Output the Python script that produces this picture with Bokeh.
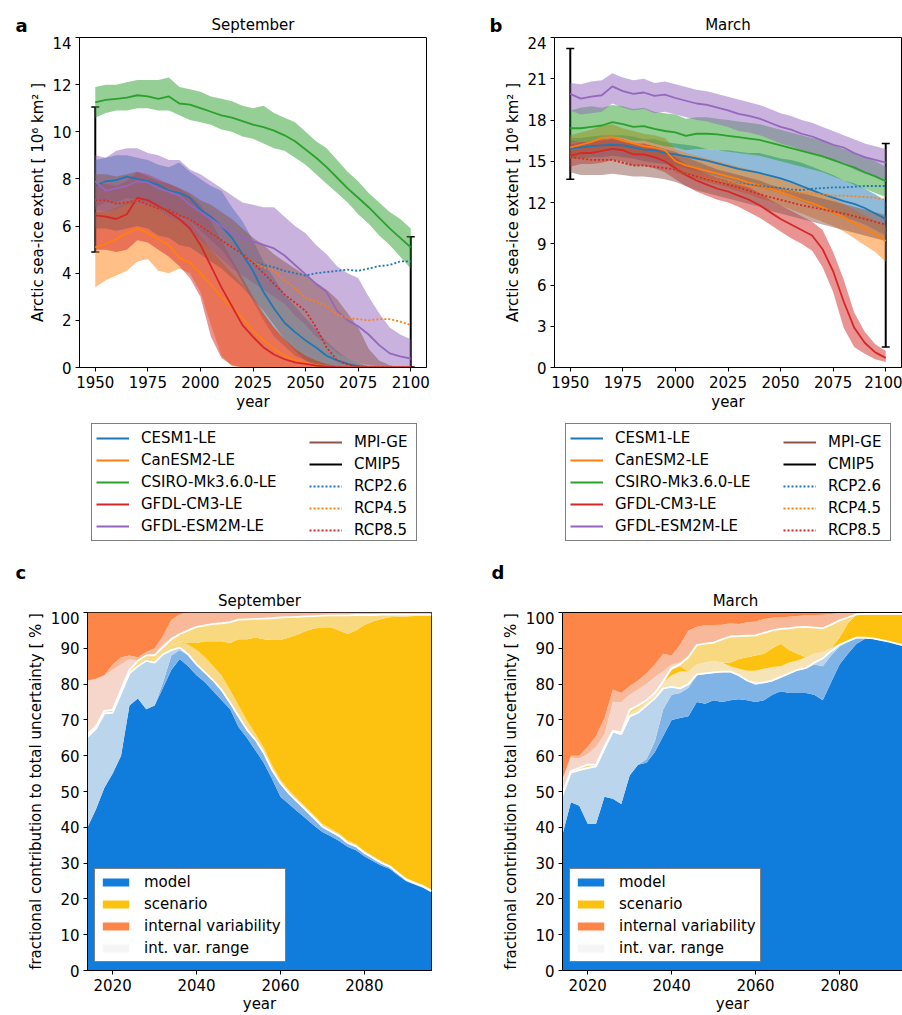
from bokeh.plotting import figure
from bokeh.models import (Range1d, FixedTicker, Legend, LegendItem, Label, Whisker,
                          TeeHead, ColumnDataSource, LinearAxis)
from bokeh.layouts import column, row
from bokeh.embed import file_html
from bokeh.resources import INLINE

NAN = float("nan")

# ---------------- data: panels a / b (sea-ice extent, 10^6 km^2) ----------------
YEARS = [1950, 1955, 1960, 1965, 1970, 1975, 1980, 1985, 1990, 1995, 2000, 2005, 2010,
         2015, 2020, 2025, 2030, 2035, 2040, 2045, 2050, 2055, 2060, 2065, 2070, 2075,
         2080, 2085, 2090, 2095, 2100]
MODELS = ["CESM1-LE", "CanESM2-LE", "CSIRO-Mk3.6.0-LE", "GFDL-CM3-LE", "GFDL-ESM2M-LE", "MPI-GE"]
SCENARIOS = ["RCP2.6", "RCP4.5", "RCP8.5"]

# September
sep_cesm_mean = [7.7, 7.9, 7.95, 8.1, 8.0, 7.9, 7.75, 7.5, 7.4, 7.2, 6.7, 6.4, 6.0, 5.5, 4.8, 4.1, 3.2, 2.5, 1.9, 1.5, 1.15, 0.85, 0.5, 0.3, 0.15, 0.05, 0.0, 0.0, 0.0, 0.0, 0.0]
sep_cesm_lo = [6.8, 7.0, 7.0, 7.2, 7.1, 7.0, 6.8, 6.6, 6.4, 6.2, 5.8, 5.4, 5.0, 4.4, 3.6, 2.8, 2.0, 1.3, 0.9, 0.5, 0.3, 0.15, 0.05, 0.0, 0.0, 0.0, 0.0, 0.0, 0.0, 0.0, 0.0]
sep_cesm_hi = [8.8, 8.9, 9.0, 9.0, 8.9, 8.8, 8.6, 8.5, 8.7, 8.3, 8.0, 7.7, 7.5, 6.8, 6.2, 5.4, 4.5, 3.8, 3.1, 2.6, 2.1, 1.6, 1.1, 0.7, 0.4, 0.2, 0.05, 0.0, 0.0, 0.0, 0.0]
sep_can_mean = [5.1, 5.25, 5.45, 5.7, 5.9, 5.7, 5.45, 5.2, 4.65, 4.45, 4.0, 3.5, 3.0, 2.55, 2.1, 1.55, 1.15, 0.8, 0.5, 0.3, 0.18, 0.1, 0.05, 0.02, 0.0, 0.0, 0.0, 0.0, 0.0, 0.0, 0.0]
sep_can_lo = [3.4, 3.7, 3.9, 4.1, 4.5, 4.6, 4.1, 4.0, 4.2, 4.0, 3.2, 1.8, 0.5, 0.05, 0.0, 0.0, 0.0, 0.0, 0.0, 0.0, 0.0, 0.0, 0.0, 0.0, 0.0, 0.0, 0.0, 0.0, 0.0, 0.0, 0.0]
sep_can_hi = [6.6, 6.6, 6.8, 7.0, 7.2, 7.0, 6.9, 6.6, 6.3, 6.2, 5.6, 5.0, 4.5, 4.0, 3.5, 2.9, 2.3, 1.7, 1.2, 0.8, 0.5, 0.3, 0.15, 0.05, 0.0, 0.0, 0.0, 0.0, 0.0, 0.0, 0.0]
sep_csiro_mean = [11.25, 11.35, 11.4, 11.45, 11.55, 11.5, 11.4, 11.5, 11.2, 11.15, 11.0, 10.85, 10.7, 10.6, 10.45, 10.3, 10.2, 10.05, 9.85, 9.6, 9.25, 8.9, 8.5, 8.05, 7.6, 7.2, 6.8, 6.35, 5.9, 5.5, 5.1]
sep_csiro_lo = [10.6, 10.8, 10.9, 10.9, 11.0, 11.0, 10.9, 10.9, 10.7, 10.5, 10.4, 10.3, 10.1, 10.0, 9.8, 9.7, 9.5, 9.3, 9.2, 8.9, 8.6, 8.2, 7.8, 7.4, 7.0, 6.5, 6.1, 5.6, 5.2, 4.7, 4.2]
sep_csiro_hi = [11.9, 12.0, 12.0, 12.1, 12.2, 12.2, 12.2, 12.3, 11.9, 11.8, 11.7, 11.5, 11.4, 11.3, 11.1, 11.0, 11.1, 10.8, 10.6, 10.4, 10.0, 9.6, 9.3, 8.8, 8.3, 7.9, 7.4, 7.0, 6.6, 6.3, 5.9]
sep_cm3_mean = [6.45, 6.4, 6.3, 6.5, 7.2, 7.1, 6.85, 6.6, 6.3, 5.9, 5.2, 4.3, 3.4, 2.6, 1.8, 1.3, 0.85, 0.55, 0.35, 0.22, 0.15, 0.08, 0.04, 0.02, 0.0, 0.0, 0.0, 0.0, 0.0, 0.0, 0.0]
sep_cm3_lo = [5.0, 5.0, 4.9, 5.0, 5.4, 5.3, 5.0, 4.7, 4.3, 3.8, 3.0, 1.3, 0.4, 0.1, 0.0, 0.0, 0.0, 0.0, 0.0, 0.0, 0.0, 0.0, 0.0, 0.0, 0.0, 0.0, 0.0, 0.0, 0.0, 0.0, 0.0]
sep_cm3_hi = [7.8, 7.8, 7.7, 7.9, 8.3, 8.2, 8.0, 7.8, 7.6, 7.3, 6.9, 6.2, 5.4, 4.6, 3.8, 3.0, 2.3, 1.7, 1.2, 0.8, 0.5, 0.3, 0.15, 0.05, 0.0, 0.0, 0.0, 0.0, 0.0, 0.0, 0.0]
sep_esm_mean = [7.9, 7.5, 7.6, 7.7, 7.9, 7.85, 7.6, 7.45, 7.3, 6.9, 6.6, 6.3, 6.0, 5.7, 5.5, 5.35, 5.2, 5.05, 4.75, 4.35, 3.95, 3.55, 3.2, 2.4, 2.0, 1.75, 1.4, 0.95, 0.6, 0.47, 0.38]
sep_esm_lo = [6.7, 6.6, 6.7, 6.9, 7.0, 6.9, 6.7, 6.4, 6.2, 5.8, 5.4, 5.0, 4.6, 4.2, 3.9, 3.6, 3.3, 3.0, 2.7, 2.2, 1.8, 1.3, 1.0, 0.6, 0.4, 0.2, 0.1, 0.05, 0.0, 0.0, 0.0]
sep_esm_hi = [9.0, 8.9, 9.2, 9.3, 9.3, 9.1, 9.0, 8.8, 8.8, 8.4, 8.2, 7.9, 7.6, 7.3, 7.0, 6.9, 6.8, 6.8, 6.4, 6.0, 5.7, 5.2, 4.8, 4.3, 4.0, 3.8, 3.0, 2.3, 1.7, 1.4, 1.2]
sep_mpi_lo = [5.9, 5.9, 5.8, 5.9, 6.0, 5.9, 5.6, 5.5, 5.2, 5.1, 4.8, 4.5, 4.2, 3.8, 3.4, 2.9, 2.4, 1.8, 1.2, 0.7, 0.3, 0.1, 0.0, 0.0, 0.0, 0.0, 0.0, 0.0, 0.0, 0.0, 0.0]
sep_mpi_hi = [8.2, 8.2, 8.1, 8.2, 8.3, 8.1, 7.9, 7.8, 7.6, 7.4, 7.1, 6.9, 6.6, 6.3, 5.9, 5.5, 5.2, 4.8, 4.5, 4.2, 3.9, 3.6, 3.3, 2.9, 2.3, 1.7, 0.8, 0.3, 0.1, 0.0, 0.0]
sep_rcp85 = [7.1, 7.1, 6.95, 7.0, 7.1, 6.9, 6.75, 6.7, 6.45, 6.3, 6.0, 5.7, 5.4, 5.1, 4.8, 4.45, 4.0, 3.55, 3.1, 2.75, 2.4, 1.7, 0.85, 0.3, 0.12, 0.05, 0.02, 0.0, 0.0, 0.0, 0.0]
sep_rcp45 = [7.1, 7.1, 6.95, 7.0, 7.1, 6.9, 6.75, 6.7, 6.45, 6.3, 6.0, 5.7, 5.4, 5.1, 4.8, 4.5, 4.25, 4.1, 3.7, 3.35, 2.95, 2.8, 2.6, 2.25, 2.1, 2.05, 2.0, 2.05, 2.05, 1.95, 1.8]
sep_rcp26 = [7.1, 7.1, 6.95, 7.0, 7.1, 6.9, 6.75, 6.7, 6.45, 6.3, 6.0, 5.7, 5.4, 5.1, 4.85, 4.5, 4.35, 4.25, 4.1, 4.0, 3.9, 4.0, 4.05, 4.1, 4.15, 4.1, 4.2, 4.3, 4.35, 4.5, 4.5]
sep_cmip5_base = [1950, 2100]
sep_cmip5_lower = [4.9, 0.02]
sep_cmip5_upper = [11.05, 5.55]

# March
mar_cesm_mean = [15.95, 16.0, 16.1, 16.15, 16.2, 16.15, 16.0, 15.85, 15.8, 15.6, 15.5, 15.35, 15.2, 15.05, 14.85, 14.65, 14.45, 14.3, 14.15, 13.95, 13.75, 13.5, 13.2, 12.9, 12.6, 12.35, 12.1, 11.9, 11.6, 11.2, 10.8]
mar_cesm_lo = [15.2, 15.2, 15.3, 15.3, 15.4, 15.3, 15.2, 15.0, 14.9, 14.8, 14.7, 14.5, 14.3, 14.1, 13.9, 13.7, 13.5, 13.3, 13.1, 12.9, 12.7, 12.4, 12.1, 11.8, 11.5, 11.2, 10.9, 10.7, 10.4, 10.0, 9.6]
mar_cesm_hi = [16.7, 16.7, 16.8, 16.9, 16.9, 16.9, 16.8, 16.6, 16.6, 16.4, 16.3, 16.2, 16.1, 15.9, 15.8, 15.8, 15.7, 15.6, 15.6, 15.4, 15.2, 15.1, 14.9, 14.6, 14.3, 14.0, 13.6, 13.4, 13.0, 12.6, 12.1]
mar_can_mean = [16.0, 16.2, 16.4, 16.7, 16.75, 16.5, 16.3, 16.1, 16.0, 15.8, 15.0, 14.7, 14.5, 14.3, 14.1, 13.9, 13.7, 13.45, 13.25, 13.0, 12.75, 12.5, 12.2, 11.95, 11.65, 11.3, 10.95, 10.5, 10.1, 9.7, 9.2]
mar_can_lo = [15.2, 15.4, 15.6, 15.9, 15.9, 15.7, 15.5, 15.3, 15.2, 15.0, 14.2, 13.9, 13.7, 13.5, 13.3, 13.1, 12.8, 12.6, 12.3, 12.1, 11.8, 11.5, 11.2, 10.9, 10.6, 10.3, 9.9, 9.4, 8.9, 8.4, 7.7]
mar_can_hi = [16.9, 17.1, 17.3, 17.6, 17.7, 17.4, 17.2, 17.0, 16.9, 16.7, 15.9, 15.6, 15.4, 15.2, 15.0, 14.8, 14.6, 14.4, 14.2, 13.9, 13.7, 13.4, 13.2, 12.9, 12.6, 12.3, 11.9, 11.5, 11.1, 10.7, 10.3]
mar_csiro_mean = [17.4, 17.4, 17.5, 17.6, 17.85, 17.7, 17.5, 17.55, 17.35, 17.2, 17.1, 16.85, 17.0, 17.0, 16.95, 16.85, 16.75, 16.65, 16.55, 16.35, 16.15, 15.95, 15.75, 15.55, 15.35, 15.1, 14.8, 14.55, 14.2, 13.9, 13.55]
mar_csiro_lo = [16.4, 16.4, 16.5, 16.6, 16.8, 16.7, 16.5, 16.5, 16.3, 16.1, 16.0, 15.8, 15.9, 15.9, 15.8, 15.7, 15.6, 15.5, 15.4, 15.2, 15.0, 14.8, 14.6, 14.4, 14.2, 13.9, 13.6, 13.3, 13.0, 12.7, 12.4]
mar_csiro_hi = [18.7, 18.9, 19.0, 18.9, 19.1, 19.0, 18.8, 18.9, 18.6, 18.5, 18.4, 18.1, 18.2, 18.2, 18.1, 18.0, 17.9, 17.8, 17.7, 17.5, 17.3, 17.1, 16.9, 16.7, 16.5, 16.2, 15.9, 15.6, 15.3, 15.0, 14.6]
mar_cm3_mean = [15.4, 15.6, 15.6, 15.75, 15.9, 15.8, 15.5, 15.5, 15.3, 15.0, 14.5, 14.0, 13.6, 13.3, 13.0, 12.8, 12.5, 12.2, 11.8, 11.3, 10.8, 10.4, 10.0, 9.6, 8.6, 7.0, 4.8, 2.9, 1.8, 1.1, 0.7]
mar_cm3_lo = [14.6, 14.8, 14.8, 14.9, 15.1, 15.0, 14.7, 14.7, 14.5, 14.2, 13.7, 13.2, 12.8, 12.5, 12.2, 12.0, 11.7, 11.3, 10.9, 10.4, 9.9, 9.4, 9.0, 8.5, 7.3, 5.5, 2.9, 1.5, 1.0, 0.6, 0.4]
mar_cm3_hi = [16.2, 16.4, 16.4, 16.6, 16.7, 16.6, 16.3, 16.3, 16.1, 15.8, 15.3, 14.8, 14.4, 14.1, 13.8, 13.6, 13.3, 13.1, 12.7, 12.2, 11.8, 11.4, 11.0, 10.6, 10.0, 8.4, 6.4, 4.0, 2.6, 1.7, 1.2]
mar_esm_mean = [19.9, 19.55, 19.7, 19.8, 20.45, 20.1, 19.9, 20.0, 19.75, 19.85, 19.6, 19.4, 19.2, 19.1, 18.9, 18.7, 18.45, 18.3, 18.1, 17.8, 17.5, 17.3, 17.0, 16.8, 16.5, 16.2, 16.0, 15.6, 15.3, 15.1, 14.9]
mar_esm_lo = [18.7, 18.4, 18.5, 18.6, 19.2, 18.9, 18.7, 18.8, 18.5, 18.6, 18.4, 18.2, 18.0, 17.9, 17.7, 17.5, 17.2, 17.1, 16.9, 16.6, 16.3, 16.1, 15.8, 15.6, 15.3, 15.0, 14.8, 14.4, 14.1, 13.9, 13.7]
mar_esm_hi = [20.7, 20.6, 20.8, 20.9, 21.4, 21.1, 20.9, 21.0, 20.7, 20.8, 20.6, 20.4, 20.2, 20.1, 19.9, 19.7, 19.5, 19.3, 19.1, 18.8, 18.5, 18.3, 18.0, 17.8, 17.5, 17.2, 16.9, 16.6, 16.3, 16.1, 15.9]
mar_mpi_lo = [14.2, 14.0, 14.0, 14.0, 14.1, 14.0, 13.9, 13.9, 13.8, 13.7, 13.5, 13.2, 12.9, 12.7, 12.5, 12.3, 12.1, 11.9, 11.7, 11.4, 11.2, 11.0, 10.8, 10.6, 10.4, 10.2, 10.0, 9.8, 9.6, 9.4, 9.2]
mar_mpi_hi = [16.5, 16.4, 16.5, 16.5, 16.6, 16.4, 16.3, 16.2, 16.1, 15.9, 15.7, 15.3, 15.0, 14.7, 14.4, 14.2, 14.0, 13.8, 13.6, 13.3, 13.1, 12.9, 12.7, 12.5, 12.3, 12.1, 11.9, 11.7, 11.5, 11.3, 11.1]
mar_rcp85 = [15.3, 15.2, 15.1, 15.1, 15.1, 14.9, 14.7, 14.7, 14.6, 14.5, 14.4, 14.1, 13.9, 13.7, 13.5, 13.3, 13.1, 12.85, 12.6, 12.4, 12.2, 12.0, 11.8, 11.65, 11.5, 11.35, 11.2, 11.0, 10.8, 10.6, 10.4]
mar_rcp45 = [15.3, 15.2, 15.1, 15.1, 15.1, 14.9, 14.7, 14.7, 14.6, 14.5, 14.4, 14.1, 13.9, 13.75, 13.6, 13.5, 13.35, 13.2, 13.1, 13.0, 12.9, 12.8, 12.7, 12.65, 12.6, 12.5, 12.5, 12.45, 12.4, 12.35, 12.2]
mar_rcp26 = [15.3, 15.2, 15.1, 15.1, 15.1, 14.9, 14.7, 14.7, 14.6, 14.5, 14.4, 14.1, 13.9, 13.75, 13.6, 13.5, 13.4, 13.3, 13.2, 13.1, 13.05, 12.95, 12.9, 13.0, 13.05, 13.1, 13.1, 13.15, 13.2, 13.2, 13.2]
mar_cmip5_base = [1950, 2100]
mar_cmip5_lower = [13.7, 1.5]
mar_cmip5_upper = [23.2, 16.3]

# ---------------- data: panels c / d (cumulative fraction boundaries, %) ----------------
YRS_U = [2014, 2016, 2018, 2020, 2022, 2024, 2026, 2028, 2030, 2032, 2034, 2036, 2038, 2040,
         2042, 2044, 2046, 2048, 2050, 2052, 2054, 2056, 2058, 2060, 2062, 2064, 2066, 2068,
         2070, 2072, 2074, 2076, 2078, 2080, 2082, 2084, 2086, 2088, 2090, 2092, 2094, 2096]
# September
c_model = [40, 45, 51, 55, 60, 74, 76, 73, 74, 79, 84, 87, 85, 82.5, 80.5, 78, 75.5, 73, 68, 65, 61.5, 58, 53.5, 48.5, 46.5, 44.5, 42.5, 40.5, 38.7, 37.5, 36.2, 34.6, 33.6, 31.9, 30.6, 29.3, 28.4, 26.6, 24.9, 24.0, 23.1, 21.8]
c_model_hi = [40, 45, 51, 55, 60, 74, 76, 73, 74, 80.5, 88, 89.5, 88, 85.2, 83, 80.7, 78, 74.5, 70.7, 67, 64.2, 60.5, 55.7, 52, 49.2, 46.9, 44.6, 42.3, 39.9, 38.6, 37.3, 35.4, 34.4, 32.6, 31.2, 29.8, 28.8, 26.9, 25.1, 24.1, 23.2, 21.9]
c_model_c = [65.3, 67.5, 71.8, 72, 77.5, 83, 85, 86.5, 86, 88.3, 89.5, 90.2, 88.3, 85.5, 83.3, 81, 78.3, 74.8, 71, 67.3, 64.5, 60.8, 56, 52.3, 49.5, 47.2, 44.9, 42.6, 40.2, 38.9, 37.6, 35.7, 34.7, 32.9, 31.5, 30.1, 29.1, 27.2, 25.4, 24.4, 23.5, 22.2]
c_scen_lo = [65.8, 68, 72.3, 72.5, 78, 83.5, 85.6, 87.2, 86.8, 89.2, 90.8, 92, 91, 89.5, 87.5, 85, 82.3, 78.3, 74, 69.8, 66.2, 62.3, 57.3, 53.3, 50.4, 48, 45.7, 43.4, 41, 39.6, 38.3, 36.3, 35.3, 33.4, 32, 30.6, 29.5, 27.6, 25.8, 24.8, 23.9, 22.6]
c_scen = [65.8, 68, 72.3, 72.5, 78, 83.5, 85.6, 87.2, 86.8, 89.2, 90.8, 92, 91.5, 91.5, 92, 92, 92, 91.5, 92.5, 92.5, 93, 92.5, 92.3, 92.3, 93, 93.8, 94.8, 95.5, 95.8, 95.9, 95, 94, 95, 96.5, 97.5, 98.2, 98.7, 98.8, 98.9, 99, 99, 99]
c_scen_c = [66, 68.2, 72.5, 72.8, 78.5, 84, 86.5, 88, 88, 90.3, 92.5, 94, 95, 96, 96.4, 96.8, 97, 97.3, 98, 98.1, 98.2, 98.3, 98.4, 98.6, 98.7, 98.8, 98.9, 99, 99.1, 99.2, 99.2, 99.2, 99.3, 99.3, 99.3, 99.4, 99.4, 99.4, 99.4, 99.4, 99.4, 99.4]
c_iv_lo = [81, 81.5, 82.5, 84, 85.5, 87, 86.5, 88.2, 88.5, 91, 93, 94, 95, 96, 96.4, 96.8, 97, 97.3, 98, 98.1, 98.2, 98.3, 98.4, 98.6, 98.7, 98.8, 98.9, 99, 99.1, 99.2, 99.2, 99.2, 99.3, 99.3, 99.3, 99.4, 99.4, 99.4, 99.4, 99.4, 99.4, 99.4]
c_iv_hi = [81, 81.5, 82.5, 85.5, 87.5, 88, 87.5, 89, 90, 93.5, 98, 99.5, 100, 100, 100, 100, 100, 100, 100, 100, 100, 100, 100, 100, 100, 100, 100, 100, 100, 100, 100, 100, 100, 100, 100, 100, 100, 100, 100, 100, 100, 100]
# March
d_model = [38, 47, 46, 41, 41, 48.5, 48, 46.5, 54.5, 57.5, 58, 61, 65.5, 70, 70.5, 71, 75, 74.5, 75.5, 75, 75.5, 75.8, 75.5, 75, 75.5, 77, 78, 77.5, 77.5, 77.5, 77, 75.5, 80.5, 85.5, 88.5, 91.2, 92.6, 92.6, 92.2, 91.8, 91.2, 90.6]
d_model_hi = [38, 47, 46, 41, 41, 48.5, 48, 46.5, 54.5, 57.5, 59, 64, 73, 77, 77.5, 79, 82.5, 82.8, 83.1, 83.3, 83.3, 82.3, 80.8, 79.8, 80.3, 80.8, 81.8, 82.8, 83.8, 84.3, 85.5, 85, 88, 90.5, 91.8, 92.8, 92.8, 92.6, 92.2, 91.8, 91.2, 90.6]
d_model_c = [49, 55.3, 56, 56.5, 57, 62, 66.7, 66, 71, 72, 74, 76, 78.8, 79.2, 78.8, 80, 82.7, 83, 83.3, 83.5, 83.5, 82.5, 81, 80.2, 80.5, 81, 82, 83, 84, 84.5, 86, 87.2, 89.2, 91, 92, 93, 93, 92.8, 92.3, 91.8, 91.2, 90.6]
d_scen_lo = [49.2, 55.4, 56.2, 56.8, 57.3, 62.3, 66.9, 66.3, 71.8, 73, 75, 77.5, 80.5, 82.5, 83.5, 83.5, 85.5, 86, 86.5, 86, 85, 84.3, 83.7, 83.7, 84.3, 84.8, 85, 86, 86.6, 87.5, 88.5, 89, 90, 91.2, 92.1, 93, 93, 92.8, 92.3, 91.8, 91.2, 90.6]
d_scen = [49.2, 55.4, 56.2, 56.8, 57.3, 62.3, 66.9, 66.3, 71.8, 73, 75, 77.5, 80.5, 84, 85, 83.5, 85.5, 86, 86.5, 86, 86, 87, 87.5, 88, 88.5, 90, 91.3, 89.5, 88.5, 87.5, 88.5, 89, 90, 93, 97, 99.3, 99.4, 99.4, 99.4, 99.4, 99.4, 99.4]
d_scen_c = [49.5, 55.7, 56.6, 57.5, 57.5, 62.5, 67, 66.5, 72.8, 74, 75.5, 77.5, 80.8, 84.4, 85.5, 87.5, 90.9, 91.3, 91.6, 92.5, 93.3, 93.4, 93.5, 93.6, 94.3, 95, 95.4, 95.6, 95.9, 96, 95.8, 95.6, 96.6, 97.8, 98.6, 99.5, 99.6, 99.6, 99.6, 99.6, 99.6, 99.6]
d_iv_lo = [53.5, 59.5, 59.2, 60.5, 62.5, 66, 75, 75, 77, 78.5, 80, 82, 83.5, 85.5, 86, 88, 90.9, 91.3, 91.6, 92.5, 93.3, 93.4, 93.5, 93.6, 94.3, 95, 95.4, 95.6, 95.9, 96, 95.8, 95.6, 96.6, 97.8, 98.6, 99.5, 99.6, 99.6, 99.6, 99.6, 99.6, 99.6]
d_iv_hi = [53.5, 60, 60, 62.5, 65.5, 70.5, 78.5, 77.5, 79.5, 81, 83, 85.5, 88.5, 88, 91, 95, 96, 96.5, 96.5, 96.6, 97, 96.8, 97.3, 97.5, 98.2, 98.5, 98.7, 98.8, 99, 99.2, 99.3, 99.4, 99.6, 99.8, 100, 100, 100, 100, 100, 100, 100, 100]
TOTAL = 100
UNC_LABELS = ["model", "scenario", "internal variability", "int. var. range"]

for arr in [sep_cesm_mean, sep_cesm_lo, sep_cesm_hi, sep_can_mean, sep_can_lo, sep_can_hi,
            sep_csiro_mean, sep_csiro_lo, sep_csiro_hi, sep_cm3_mean, sep_cm3_lo, sep_cm3_hi,
            sep_esm_mean, sep_esm_lo, sep_esm_hi, sep_mpi_lo, sep_mpi_hi, sep_rcp85, sep_rcp45, sep_rcp26,
            mar_cesm_mean, mar_cesm_lo, mar_cesm_hi, mar_can_mean, mar_can_lo, mar_can_hi,
            mar_csiro_mean, mar_csiro_lo, mar_csiro_hi, mar_cm3_mean, mar_cm3_lo, mar_cm3_hi,
            mar_esm_mean, mar_esm_lo, mar_esm_hi, mar_mpi_lo, mar_mpi_hi, mar_rcp85, mar_rcp45, mar_rcp26]:
    assert len(arr) == len(YEARS), len(arr)
for arr in [c_model, c_model_hi, c_model_c, c_scen_lo, c_scen, c_scen_c, c_iv_lo, c_iv_hi,
            d_model, d_model_hi, d_model_c, d_scen_lo, d_scen, d_scen_c, d_iv_lo, d_iv_hi]:
    assert len(arr) == len(YRS_U), len(arr)

# ---------------- styling ----------------
FONT = "DejaVu Sans"
FS = "15px"
C_BLUE, C_ORANGE, C_GREEN, C_RED, C_PURPLE, C_BROWN = "#1f77b4", "#ff7f0e", "#2ca02c", "#d62728", "#9467bd", "#8c564b"
MODEL_COLORS = [C_BLUE, C_ORANGE, C_GREEN, C_RED, C_PURPLE, C_BROWN]
U_MODEL, U_SCEN, U_IV, U_RANGE = "#107cdc", "#fdc210", "#fe8548", "#f5f5f5"
DOT = "2 2"


def make_fig(w, h, xr, yr, bl, br, bt, bb):
    p = figure(width=w, height=h, x_range=Range1d(*xr), y_range=Range1d(*yr),
               output_backend="svg", toolbar_location=None, title=None,
               min_border_left=bl, min_border_right=br, min_border_top=bt, min_border_bottom=bb)
    p.outline_line_color = "black"
    p.outline_line_width = 1
    p.outline_line_alpha = 1
    p.grid.visible = False
    return p


def style_axes(p, xticks, yticks, xlabel, ylabel, ylab_standoff, xlab_standoff):
    p.xaxis.ticker = FixedTicker(ticks=xticks)
    p.yaxis.ticker = FixedTicker(ticks=yticks)
    p.xaxis.axis_label = xlabel
    p.yaxis.axis_label = ylabel
    for ax in list(p.xaxis) + list(p.yaxis):
        ax.axis_line_color = "black"
        ax.axis_line_width = 1
        ax.major_tick_line_color = "black"
        ax.major_tick_line_width = 1
        ax.major_tick_out = 4
        ax.major_tick_in = 0
        ax.minor_tick_line_color = None
        ax.major_label_text_font = FONT
        ax.major_label_text_font_size = FS
        ax.major_label_text_color = "black"
        ax.major_label_standoff = 4
        ax.axis_label_text_font = FONT
        ax.axis_label_text_font_size = FS
        ax.axis_label_text_font_style = "normal"
        ax.axis_label_text_color = "black"
    p.yaxis.axis_label_standoff = ylab_standoff
    p.xaxis.axis_label_standoff = xlab_standoff


def heading_strip(height, entries):
    """A thin figure holding panel letters and panel titles (vertical centres in page pixels)."""
    s = figure(width=902, height=height, x_range=Range1d(0, 902), y_range=Range1d(height, 0),
               x_axis_type=None, y_axis_type=None, min_border=0, toolbar_location=None,
               output_backend="svg", title=None)
    s.outline_line_color = None
    s.grid.visible = False
    for x, y, txt, bold, align in entries:
        s.add_layout(Label(x=x, y=y, text=txt, text_font=FONT,
                           text_font_size="18px" if bold else FS,
                           text_font_style="bold" if bold else "normal",
                           text_color="black", text_align=align, text_baseline="middle"))
    return s


def extent_panel(yr, yticks, bl, br, bands, means, rcps, cmip):
    p = make_fig(451, 379, (1942.5, 2107.5), yr, bl, br, 1, 48)
    style_axes(p, [1950, 1975, 2000, 2025, 2050, 2075, 2100], yticks, "year",
               "Arctic sea-ice extent [ 10\u2076 km\u00b2 ]", 2, 2)
    for (lo, hi), col in zip(bands, MODEL_COLORS):
        p.varea(x=YEARS, y1=lo, y2=hi, fill_color=col, fill_alpha=0.5)
    for m, col in zip(means, MODEL_COLORS):
        p.line(YEARS, m, line_color=col, line_width=1.8)
    for r, col in zip(rcps, [C_BLUE, C_ORANGE, C_RED]):
        p.line(YEARS, r, line_color=col, line_width=1.8, line_dash=DOT)
    src = ColumnDataSource(dict(base=cmip[0], lower=cmip[1], upper=cmip[2]))
    p.add_layout(Whisker(source=src, base="base", lower="lower", upper="upper",
                         dimension="height", line_color="black", line_width=2,
                         upper_head=TeeHead(size=8, line_color="black", line_width=1.5),
                         lower_head=TeeHead(size=8, line_color="black", line_width=1.5)))
    return p


strip_top = heading_strip(36, [(15, 25, "a", True, "left"), (252.5, 24, "September", False, "center"),
                               (489, 25, "b", True, "left"), (727.5, 24, "March", False, "center")])

fa = extent_panel((0, 14), list(range(0, 15, 2)), 79, 25,
                  [(sep_cesm_lo, sep_cesm_hi), (sep_can_lo, sep_can_hi), (sep_csiro_lo, sep_csiro_hi),
                   (sep_cm3_lo, sep_cm3_hi), (sep_esm_lo, sep_esm_hi), (sep_mpi_lo, sep_mpi_hi)],
                  [sep_cesm_mean, sep_can_mean, sep_csiro_mean, sep_cm3_mean, sep_esm_mean],
                  [sep_rcp26, sep_rcp45, sep_rcp85],
                  (sep_cmip5_base, sep_cmip5_lower, sep_cmip5_upper))

fb = extent_panel((0, 24), list(range(0, 25, 3)), 103, 1,
                  [(mar_cesm_lo, mar_cesm_hi), (mar_can_lo, mar_can_hi), (mar_csiro_lo, mar_csiro_hi),
                   (mar_cm3_lo, mar_cm3_hi), (mar_esm_lo, mar_esm_hi), (mar_mpi_lo, mar_mpi_hi)],
                  [mar_cesm_mean, mar_can_mean, mar_csiro_mean, mar_cm3_mean, mar_esm_mean],
                  [mar_rcp26, mar_rcp45, mar_rcp85],
                  (mar_cmip5_base, mar_cmip5_lower, mar_cmip5_upper))


def legend_fig(x0):
    lf = figure(width=451, height=145, x_axis_type=None, y_axis_type=None, output_backend="svg",
                toolbar_location=None, min_border=0, x_range=Range1d(0, 1), y_range=Range1d(0, 1),
                title=None)
    lf.outline_line_color = None
    col1, col2 = [], []
    for name, col in zip(MODELS[:5], MODEL_COLORS[:5]):
        r = lf.line(x=[NAN], y=[NAN], line_color=col, line_width=2)
        col1.append(LegendItem(label=name, renderers=[r]))
    r = lf.line(x=[NAN], y=[NAN], line_color=C_BROWN, line_width=2)
    col2.append(LegendItem(label=MODELS[5], renderers=[r]))
    r = lf.line(x=[NAN], y=[NAN], line_color="black", line_width=2)
    col2.append(LegendItem(label="CMIP5", renderers=[r]))
    for name, col in zip(SCENARIOS, [C_BLUE, C_ORANGE, C_RED]):
        r = lf.line(x=[NAN], y=[NAN], line_color=col, line_width=2, line_dash=DOT)
        col2.append(LegendItem(label=name, renderers=[r]))
    common = dict(label_text_font=FONT, label_text_font_size=FS, label_text_color="black",
                  padding=4, spacing=2, label_height=20, glyph_height=20, glyph_width=33,
                  label_standoff=12, margin=0)
    la = Legend(items=col1, location=(x0, 19), border_line_color="black", border_line_width=1,
                background_fill_color="white", background_fill_alpha=1, label_width=271, **common)
    lb = Legend(items=col2, location=(x0 + 218, 20), border_line_color=None,
                background_fill_alpha=0, **common)
    lf.add_layout(la)
    lf.add_layout(lb)
    return lf


la_fig = legend_fig(91)
lb_fig = legend_fig(114)

strip_mid = heading_strip(51, [(15, 12, "c", True, "left"), (259, 40, "September", False, "center"),
                               (491, 12, "d", True, "left"), (735, 40, "March", False, "center")])


def uncert_panel(bl, br, xr, bounds, colors, w1, w2):
    p = make_fig(451, 404, xr, (0, 100), bl, br, 1, 44)
    style_axes(p, [2020, 2040, 2060, 2080], list(range(0, 101, 10)), "year",
               "fractional contribution to total uncertainty [ % ]", 3, 1)
    prev = 0
    rends = []
    for b, col in zip(bounds, colors):
        rends.append(p.varea(x=YRS_U, y1=prev, y2=b, fill_color=col))
        prev = b
    r_iv = p.varea(x=YRS_U, y1=prev, y2=TOTAL, fill_color=U_IV)
    p.line(YRS_U, w1, line_color="white", line_width=1.8)
    p.line(YRS_U, w2, line_color="white", line_width=1.8)
    r_rng = p.varea(x=[NAN], y1=[NAN], y2=[NAN], fill_color=U_RANGE)
    items = [LegendItem(label=UNC_LABELS[0], renderers=[rends[0]]),
             LegendItem(label=UNC_LABELS[1], renderers=[rends[4]]),
             LegendItem(label=UNC_LABELS[2], renderers=[r_iv]),
             LegendItem(label=UNC_LABELS[3], renderers=[r_rng])]
    leg = Legend(items=items, location=(7, 8), label_text_font=FONT, label_text_font_size=FS,
                 label_text_color="black", padding=4, spacing=4, label_height=18,
                 glyph_height=10, glyph_width=33, label_standoff=12, margin=0,
                 border_line_color="black", border_line_width=1, background_fill_color="white",
                 background_fill_alpha=1)
    p.add_layout(leg)
    return p


fc = uncert_panel(87, 20, (2014, 2096),
                  [c_model, c_model_hi, c_model_c, c_scen_lo, c_scen, c_scen_c, c_iv_lo, c_iv_hi],
                  [U_MODEL, "#80b4e6", "#bad5ec", "#f8d98a", U_SCEN, "#f8d980", "#f6d6ca", "#f8b99b"],
                  c_model_c, c_scen_c)

fd = uncert_panel(111, 0, (2014, 2095),
                  [d_model, d_model_hi, d_model_c, d_scen_lo, d_scen, d_scen_c, d_iv_lo, d_iv_hi],
                  [U_MODEL, "#80b4e6", "#bad5ec", "#f6e4b6", U_SCEN, "#f8d980", "#f6d6ca", "#f8b99b"],
                  d_model_c, d_scen_c)
fd.outline_line_color = None
fd.add_layout(LinearAxis(ticker=FixedTicker(ticks=[]), major_label_text_font_size="0px",
                         major_tick_line_color=None, minor_tick_line_color=None,
                         major_tick_out=0, minor_tick_out=0, major_label_standoff=0,
                         axis_line_color="black", axis_line_width=1), "above")

layout = column(strip_top, row(fa, fb), row(la_fig, lb_fig), strip_mid, row(fc, fd))
open("out.html", "w").write(file_html(layout, INLINE))
